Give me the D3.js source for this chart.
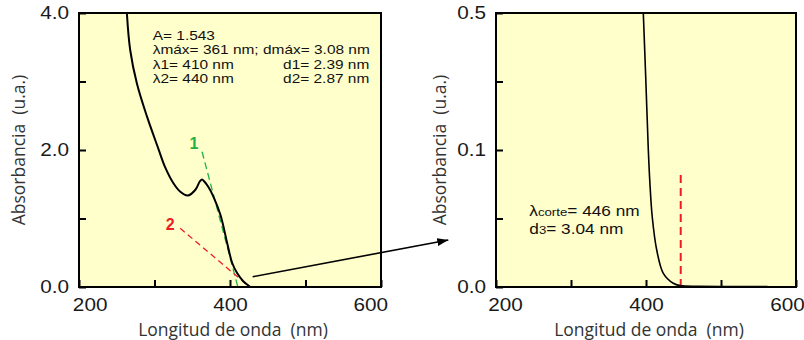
<!DOCTYPE html>
<html>
<head>
<meta charset="utf-8">
<script src="https://cdn.jsdelivr.net/npm/d3@7"></script>
<style>
  body { margin: 0; background: #fff; }
  svg { display: block; }
</style>
</head>
<body>
<svg id="chart"></svg>
<script>
// full spectrum, left panel (nm, a.u.)
const fullWave = [263.4, 267.8, 276.7, 290, 305.4, 313.6, 325.3, 334.2, 344, 354.2, 360, 363, 366, 371.4, 378, 387.4, 396.3, 402.9, 409.6, 417.9, 427];
const fullAbs  = [4.0, 3.46, 2.97, 2.49, 2.01, 1.76, 1.51, 1.39, 1.335, 1.42, 1.54, 1.57, 1.54, 1.46, 1.32, 1.05, 0.64, 0.35, 0.20, 0.08, 0.0];

// tangent lines 1 and 2
const tan1Wave = [363, 410.4];
const tan1Abs  = [1.975, 0];
const tan2Wave = [334, 426];
const tan2Abs  = [0.857, 0];

// zoomed edge, right panel
const edgeWave = [396.4, 399.6, 403.1, 405.2, 408.3, 414.3, 423.1, 436.4, 445.3, 470, 520, 562];
const edgeAbs  = [0.5, 0.314, 0.1, 0.0759, 0.0513, 0.027, 0.010, 0.0027, 0.001, 0.0005, 0.0004, 0.0003];

// cut-off marker
const cutWave = [446.3, 446.3];
const cutAbs  = [0, 0.085];

// axes
const xTicks = [200, 300, 400, 500, 600];
const xLabels = [200, 400, 600];
const leftYTicks = [0, 1, 2, 3, 4];
const leftYLabels = [0, 2, 4];
const rightYTicks = [0, 0.05, 0.1, 0.3, 0.5];
const rightYLabels = [0, 0.1, 0.5];
const xTitle = "Longitud de onda  (nm)";
const yTitle = "Absorbancia  (u.a.)";

const infoLeft = ["A= 1.543", "λmáx= 361 nm; dmáx= 3.08 nm", "λ1= 410 nm", "λ2= 440 nm"];
const infoRight = ["", "", "d1= 2.39 nm", "d2= 2.87 nm"];

const W = 804, H = 340;
const FONT = "'Liberation Sans', Arial, Helvetica, sans-serif";
const TITLE_FONT = "'Open Sans', sans-serif";
const BG = "#ffffcc";
const GREEN = "#1fb04a";
const RED = "#ee1c24";

const svg = d3.select("#chart").attr("width", W).attr("height", H);

svg.append("defs").append("marker")
   .attr("id", "arrow")
   .attr("markerUnits", "userSpaceOnUse")
   .attr("markerWidth", 12).attr("markerHeight", 9)
   .attr("refX", 11).attr("refY", 4)
   .attr("orient", "auto")
   .append("path")
   .attr("d", "M0,0 L11,4 L0,8 Z")
   .attr("fill", "#000");

function panel(id, left, xs, ys, yTickVals, yLabelVals, fmt, titleX, edgeDx) {
	const w = xs.range()[1], h = ys.range()[0];
	const g = svg.append("g").attr("transform", `translate(${left},13)`);

	g.append("rect").attr("width", w).attr("height", h).attr("fill", BG);

	svg.select("defs").append("clipPath").attr("id", id)
	   .append("rect").attr("width", w).attr("height", h);

	const plot = g.append("g").attr("clip-path", `url(#${id})`);

	const xAxis = d3.axisBottom(xs).tickValues(xTicks).tickSize(-7).tickPadding(11)
	                .tickFormat(d => xLabels.includes(d) ? d : "");
	const yAxis = d3.axisLeft(ys).tickValues(yTickVals).tickSize(-7).tickPadding(9)
	                .tickFormat(d => yLabelVals.includes(d) ? fmt(d) : "");

	const xg = g.append("g").attr("transform", `translate(0,${h})`).call(xAxis);
	const yg = g.append("g").call(yAxis);

	[xg, yg].forEach(a => {
		a.select(".domain").remove();
		a.selectAll("line").attr("stroke", "#000").attr("stroke-width", 2);
		a.selectAll("text").attr("font-family", FONT).attr("font-size", 18.5)
		 .attr("fill", "#1a1a1a").attr("transform", "scale(1.12,1)");
	});
	xg.selectAll("text").attr("dx", d => d === 200 ? edgeDx : d === 600 ? -edgeDx : 0);

	g.append("text")
	 .attr("x", w / 2 + 3).attr("y", h + 49)
	 .attr("text-anchor", "middle")
	 .attr("font-family", TITLE_FONT).attr("font-size", 17.5)
	 .attr("fill", "#333").style("white-space", "pre")
	 .text(xTitle);

	g.append("text")
	 .attr("transform", `translate(${titleX},${h / 2}) rotate(-90)`)
	 .attr("text-anchor", "middle")
	 .attr("font-family", TITLE_FONT).attr("font-size", 17.5)
	 .attr("fill", "#333").style("white-space", "pre")
	 .text(yTitle);

	return {g, plot, w, h};
}

function frame(p) {
	p.g.append("rect").attr("width", p.w).attr("height", p.h)
	   .attr("fill", "none").attr("stroke", "#000").attr("stroke-width", 2);
}

// ---- left panel
const xL = d3.scaleLinear([200, 600], [0, 302]);
const yL = d3.scaleLinear([0, 4], [274, 0]);
const pL = panel("clipL", 79, xL, yL, leftYTicks, leftYLabels, d3.format(".1f"), -54, 9.5);

const lineL = d3.line().x(d => xL(d[0])).y(d => yL(d[1]));

pL.plot.append("path")
   .datum(d3.zip(tan1Wave, tan1Abs))
   .attr("d", lineL).attr("fill", "none")
   .attr("stroke", GREEN).attr("stroke-width", 1.3).attr("stroke-dasharray", "7,4");

pL.plot.append("path")
   .datum(d3.zip(tan2Wave, tan2Abs))
   .attr("d", lineL).attr("fill", "none")
   .attr("stroke", RED).attr("stroke-width", 1.3).attr("stroke-dasharray", "6,4");

pL.plot.append("path")
   .datum(d3.zip(fullWave, fullAbs))
   .attr("d", lineL.curve(d3.curveCatmullRom))
   .attr("fill", "none").attr("stroke", "#000").attr("stroke-width", 2);

pL.g.append("text")
   .attr("x", xL(tan1Wave[0]) - 8).attr("y", yL(tan1Abs[0]) - 3)
   .attr("text-anchor", "middle").attr("font-family", FONT)
   .attr("font-weight", "bold").attr("font-size", 16).attr("fill", GREEN)
   .text("1");

pL.g.append("text")
   .attr("x", xL(tan2Wave[0]) - 10).attr("y", yL(tan2Abs[0]) + 2)
   .attr("text-anchor", "middle").attr("font-family", FONT)
   .attr("font-weight", "bold").attr("font-size", 16).attr("fill", RED)
   .text("2");

infoLeft.forEach((t, i) => {
	const y = 26.5 + i * 14.5;
	pL.g.append("text")
	   .attr("transform", `translate(73.7,${y}) scale(1.17,1)`)
	   .attr("font-family", FONT).attr("font-size", 13.2).attr("fill", "#111")
	   .text(t);
	if (infoRight[i])
		pL.g.append("text")
		   .attr("transform", `translate(290.3,${y}) scale(1.17,1)`)
		   .attr("text-anchor", "end")
		   .attr("font-family", FONT).attr("font-size", 13.2).attr("fill", "#111")
		   .text(infoRight[i]);
});

frame(pL);

// ---- right panel
const xR = d3.scaleLinear([200, 600], [0, 300]);
const yR = d3.scaleLinear([0, 0.1, 0.5], [274, 137, 0]);
const pR = panel("clipR", 496, xR, yR, rightYTicks, rightYLabels, d3.format(".1f"), -50, 8);

const lineR = d3.line().x(d => xR(d[0])).y(d => yR(d[1]));

pR.plot.append("path")
   .datum(d3.zip(cutWave, cutAbs))
   .attr("d", lineR).attr("fill", "none")
   .attr("stroke", RED).attr("stroke-width", 2).attr("stroke-dasharray", "8,5");

pR.plot.append("path")
   .datum(d3.zip(edgeWave, edgeAbs))
   .attr("d", lineR.curve(d3.curveCatmullRom))
   .attr("fill", "none").attr("stroke", "#000").attr("stroke-width", 1.6);

const cut1 = pR.g.append("text")
   .attr("transform", "translate(33.3,203) scale(1.15,1)")
   .attr("font-family", FONT).attr("font-size", 15).attr("fill", "#111");
cut1.append("tspan").text("λ");
cut1.append("tspan").attr("font-size", 11.5).text("corte");
cut1.append("tspan").text("= 446 nm");

const cut2 = pR.g.append("text")
   .attr("transform", "translate(33.3,221) scale(1.15,1)")
   .attr("font-family", FONT).attr("font-size", 15).attr("fill", "#111");
cut2.append("tspan").text("d");
cut2.append("tspan").attr("font-size", 11.5).text("3");
cut2.append("tspan").text("= 3.04 nm");

frame(pR);

// ---- arrow from the left edge to the zoomed panel
svg.append("line")
   .attr("x1", 79 + xL(430)).attr("y1", 13 + yL(0.15))
   .attr("x2", 496 + xR(136.4)).attr("y2", 13 + yR(0.0343))
   .attr("stroke", "#000").attr("stroke-width", 1.6)
   .attr("marker-end", "url(#arrow)");
</script>
</body>
</html>
